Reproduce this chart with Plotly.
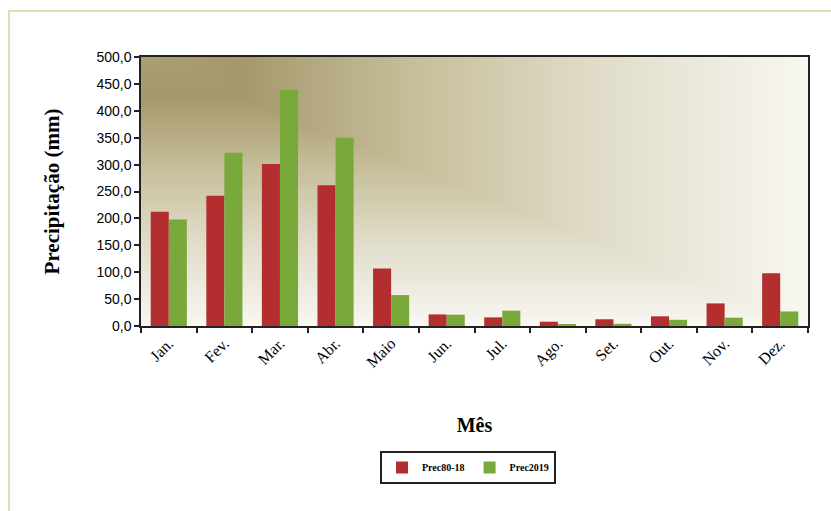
import base64
import struct
import zlib

import numpy as np
import plotly.graph_objects as go

# ---- data ----
months = ["Jan.", "Fev.", "Mar.", "Abr.", "Maio", "Jun.", "Jul.", "Ago.", "Set.", "Out.", "Nov.", "Dez."]
prec_80_18 = [212.5, 242, 301, 261.5, 107, 21.5, 16, 8, 12.5, 18, 42, 98]
prec_2019 = [198, 322, 438.5, 350, 57.5, 21, 28.5, 2, 4, 11.5, 15.5, 27]
series_names = ["Prec80-18", "Prec2019"]
y_ticks = [0, 50, 100, 150, 200, 250, 300, 350, 400, 450, 500]

# ---- layout geometry (pixels) ----
W, H = 831, 511
ML, MR, MT, MB = 141, 23, 57, 185
PW, PH = W - ML - MR, H - MT - MB


def px_to_paper_x(px):
    return (px - ML) / PW


def px_to_paper_y(py):
    return (H - MB - py) / PH


# ---- background "from corner" gradient image (style only) ----
def make_png(arr):
    h, w, _ = arr.shape
    raw = b"".join(b"\x00" + arr[r].tobytes() for r in range(h))

    def chunk(tag, data):
        c = struct.pack(">I", len(data)) + tag + data
        return c + struct.pack(">I", zlib.crc32(tag + data) & 0xFFFFFFFF)

    png = b"\x89PNG\r\n\x1a\n"
    png += chunk(b"IHDR", struct.pack(">IIBBBBB", w, h, 8, 2, 0, 0, 0))
    png += chunk(b"IDAT", zlib.compress(raw, 9))
    png += chunk(b"IEND", b"")
    return "data:image/png;base64," + base64.b64encode(png).decode()


gw, gh = PW, PH
xx, yy = np.meshgrid(np.arange(gw) / (gw - 1), np.arange(gh) / (gh - 1))
t = np.maximum(xx, yy)
stops = [0.0, 0.15, 0.4, 0.7, 1.0]
stop_cols = np.array([
    [170, 158, 116],
    [165, 152, 108],
    [198, 190, 153],
    [226, 222, 203],
    [248, 247, 241],
], dtype=float)
img = np.stack([np.interp(t, stops, stop_cols[:, c]) for c in range(3)], axis=-1)
img = np.clip(img, 0, 255).astype(np.uint8)
bg_src = make_png(img)

# ---- figure ----
fig = go.Figure()
fig.add_trace(go.Bar(x=months, y=prec_80_18, name=series_names[0],
                     marker=dict(color="#b32f2f", line=dict(width=0))))
fig.add_trace(go.Bar(x=months, y=prec_2019, name=series_names[1],
                     marker=dict(color="#79a83b", line=dict(width=0))))

serif = "Liberation Serif"

fig.update_layout(
    width=W, height=H,
    margin=dict(l=ML, r=MR, t=MT, b=MB, autoexpand=False),
    paper_bgcolor="white",
    plot_bgcolor="white",
    barmode="group",
    bargap=0.35,
    bargroupgap=0,
    separators=", ",
    showlegend=True,
    legend=dict(
        orientation="h",
        x=px_to_paper_x(468), xanchor="center",
        y=px_to_paper_y(451), yanchor="top",
        bordercolor="#222222", borderwidth=2,
        bgcolor="white",
        font=dict(family=serif, size=10, color="black", weight="bold"),
        itemwidth=30,
    ),
    images=[dict(
        source=bg_src, xref="paper", yref="paper",
        x=0, y=1, sizex=1, sizey=1, sizing="stretch",
        xanchor="left", yanchor="top", layer="below",
    )],
    shapes=[dict(
        type="rect", xref="paper", yref="paper",
        x0=px_to_paper_x(9), x1=px_to_paper_x(840),
        y0=px_to_paper_y(520), y1=px_to_paper_y(11),
        line=dict(color="#e3dcb6", width=2), fillcolor="rgba(0,0,0,0)",
        layer="below",
    )],
)

fig.update_xaxes(
    type="category",
    tickson="boundaries",
    ticks="outside", ticklen=5, tickcolor="#222222", tickwidth=1.5,
    tickangle=-45,
    tickfont=dict(family=serif, size=16, color="black"),
    showline=True, linecolor="#222222", linewidth=1.5, mirror=True,
    showgrid=False, zeroline=False,
    title=dict(text="<b>Mês</b>", font=dict(family=serif, size=20, color="black"), standoff=48),
)
fig.update_yaxes(
    range=[0, 500],
    tickvals=y_ticks,
    tickformat=".1f",
    ticks="outside", ticklen=5, tickcolor="#222222", tickwidth=1.5,
    tickfont=dict(family="Liberation Sans", size=14, color="black"),
    showline=True, linecolor="#222222", linewidth=1.5, mirror=True,
    showgrid=False, zeroline=False,
    title=dict(text="<b>Precipitação (mm)</b>", font=dict(family=serif, size=21, color="black"), standoff=31),
)

fig.write_html("out.html", config={"displayModeBar": False})

# remove the browser's default page margin so the figure fills the window exactly
with open("out.html", "r", encoding="utf-8") as fh:
    html = fh.read()
html = html.replace("<head>", "<head><style>html,body{margin:0;padding:0;overflow:hidden;}</style>", 1)
with open("out.html", "w", encoding="utf-8") as fh:
    fh.write(html)
